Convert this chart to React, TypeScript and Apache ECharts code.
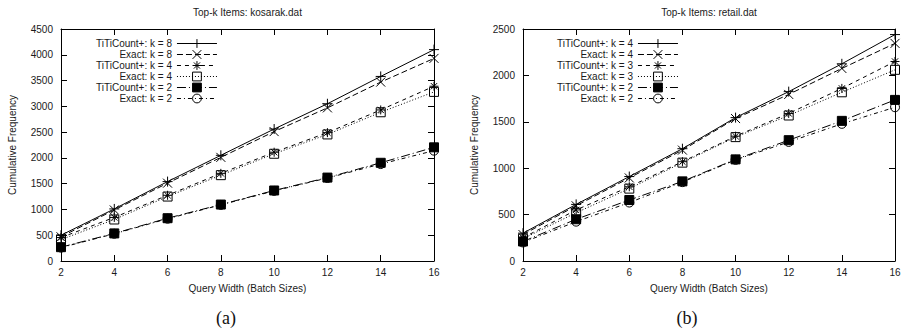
import React, { useEffect, useRef } from 'react';
import * as echarts from 'echarts';

// ---------- data ----------
const batchSizes = [2, 4, 6, 8, 10, 12, 14, 16];

// (a) kosarak.dat
const kosTiti8 = [500, 1010, 1540, 2050, 2560, 3050, 3580, 4100];
const kosExact8 = [470, 990, 1510, 2010, 2510, 2970, 3470, 3930];
const kosTiti4 = [455, 845, 1275, 1700, 2110, 2490, 2930, 3390];
const kosExact4 = [415, 805, 1250, 1665, 2080, 2455, 2885, 3280];
const kosTiti2 = [268, 535, 830, 1095, 1368, 1618, 1905, 2205];
const kosExact2 = [260, 528, 820, 1088, 1360, 1610, 1880, 2140];

// (b) retail.dat
const retTiti4 = [300, 610, 910, 1210, 1545, 1825, 2125, 2440];
const retExact4 = [285, 595, 895, 1195, 1535, 1795, 2075, 2345];
const retTiti3 = [250, 550, 800, 1070, 1345, 1590, 1860, 2150];
const retExact3 = [240, 520, 780, 1060, 1335, 1568, 1818, 2060];
const retTiti2 = [210, 450, 657, 858, 1095, 1302, 1510, 1736];
const retExact2 = [200, 424, 630, 850, 1090, 1283, 1478, 1657];

const kosNames = [
  'TiTiCount+: k = 8',
  'Exact: k = 8',
  'TiTiCount+: k = 4',
  'Exact: k = 4',
  'TiTiCount+: k = 2',
  'Exact: k = 2',
];
const retNames = [
  'TiTiCount+: k = 4',
  'Exact: k = 4',
  'TiTiCount+: k = 3',
  'Exact: k = 3',
  'TiTiCount+: k = 2',
  'Exact: k = 2',
];
const kosTitle = 'Top-k Items: kosarak.dat';
const retTitle = 'Top-k Items: retail.dat';
const xName = 'Query Width (Batch Sizes)';
const yName = 'Cumulative Frequency';

// ---------- styles ----------
const FONT = '"Liberation Sans", Arial, Helvetica, sans-serif';
const TXT = '#1a1a1a';
const PLUS = 'path://M0,5L10,5M5,0L5,10';
const CROSS = 'path://M0,0L10,10M10,0L0,10';
const STAR = 'path://M5,0L5,10M0,5L10,5M1.5,1.5L8.5,8.5M8.5,1.5L1.5,8.5';
const SQUARE_O = 'path://M0,0L10,0L10,10L0,10Z';
const CIRCLE_O = 'path://M10,5A5,5,0,1,1,0,5A5,5,0,1,1,10,5Z';

type Sty = { symbol: string; size: number; dash: any; filled: boolean };
const styles: Sty[] = [
  { symbol: PLUS, size: 10, dash: 'solid', filled: false },
  { symbol: CROSS, size: 9, dash: [6, 3], filled: false },
  { symbol: STAR, size: 9, dash: [4, 4], filled: false },
  { symbol: SQUARE_O, size: 9, dash: [1, 2], filled: false },
  { symbol: 'rect', size: 9, dash: [9, 3, 1, 3], filled: true },
  { symbol: CIRCLE_O, size: 9, dash: [4, 3, 1, 3], filled: false },
];

const PREFIX_B = '(b) ';

function mkSeries(name: string, values: number[], idx: number, s: Sty) {
  return {
    type: 'line',
    name,
    xAxisIndex: idx,
    yAxisIndex: idx,
    data: batchSizes.map((x, i) => [x, values[i]]),
    symbol: s.symbol,
    symbolSize: s.size,
    showSymbol: true,
    lineStyle: { color: '#000', width: 1, type: s.dash },
    itemStyle: {
      color: s.filled ? '#000' : 'rgba(0,0,0,0)',
      borderColor: '#000',
      borderWidth: 1,
    },
    emphasis: { disabled: true },
    silent: true,
  };
}

const plain = (v: number) => String(v);

function xAxes(gridIndex: number) {
  const common = {
    gridIndex,
    type: 'value',
    min: 2,
    max: 16,
    interval: 2,
    axisLine: { show: true, onZero: false, lineStyle: { color: '#000', width: 1 } },
    axisTick: { show: true, inside: true, length: 6, lineStyle: { color: '#000', width: 1 } },
    splitLine: { show: false },
  };
  return [
    {
      ...common,
      position: 'bottom',
      axisLabel: { color: TXT, fontSize: 10, fontFamily: FONT, margin: 6, formatter: plain },
      name: xName,
      nameLocation: 'middle',
      nameGap: 22,
      nameTextStyle: { color: TXT, fontSize: 10, fontFamily: FONT },
    },
    { ...common, position: 'top', axisLabel: { show: false } },
  ];
}

function yAxes(gridIndex: number, max: number) {
  const common = {
    gridIndex,
    type: 'value',
    min: 0,
    max,
    interval: 500,
    axisLine: { show: true, onZero: false, lineStyle: { color: '#000', width: 1 } },
    axisTick: { show: true, inside: true, length: 6, lineStyle: { color: '#000', width: 1 } },
    splitLine: { show: false },
  };
  return [
    {
      ...common,
      position: 'left',
      axisLabel: { color: TXT, fontSize: 10, fontFamily: FONT, margin: 8, formatter: plain },
      name: yName,
      nameLocation: 'middle',
      nameGap: 44,
      nameRotate: 90,
      nameTextStyle: { color: TXT, fontSize: 10, fontFamily: FONT },
    },
    { ...common, position: 'right', axisLabel: { show: false } },
  ];
}

function legend(left: number, names: string[]) {
  return {
    orient: 'vertical',
    align: 'right',
    left,
    top: 38,
    padding: 0,
    itemWidth: 40,
    itemHeight: 11,
    itemGap: 0,
    selectedMode: false,
    inactiveColor: TXT,
    data: names,
    formatter: (n: string) => (n.indexOf(PREFIX_B) === 0 ? n.slice(PREFIX_B.length) : n),
    textStyle: {
      color: TXT,
      fontSize: 10,
      lineHeight: 11,
      fontFamily: FONT,
      textBorderWidth: 0,
      textShadowBlur: 0,
    },
    lineStyle: { width: 1 },
    itemStyle: { borderWidth: 1 },
  };
}

const kosValues = [kosTiti8, kosExact8, kosTiti4, kosExact4, kosTiti2, kosExact2];
const retValues = [retTiti4, retExact4, retTiti3, retExact3, retTiti2, retExact2];
const retSeriesNames = retNames.map((n) => PREFIX_B + n);

const option: any = {
  animation: false,
  backgroundColor: '#fff',
  color: ['#000'],
  grid: [
    { left: 61, top: 29, width: 373, height: 232 },
    { left: 523, top: 29, width: 372, height: 232 },
  ],
  xAxis: [...xAxes(0), ...xAxes(1)],
  yAxis: [...yAxes(0, 4500), ...yAxes(1, 2500)],
  legend: [legend(96, kosNames), legend(557, retSeriesNames)],
  series: [
    ...kosNames.map((n, i) => mkSeries(n, kosValues[i], 0, styles[i])),
    ...retSeriesNames.map((n, i) => mkSeries(n, retValues[i], 2, styles[i])),
  ],
  graphic: [
    {
      type: 'text',
      x: 247.5,
      y: 12,
      style: { text: kosTitle, fill: TXT, font: `10px ${FONT}`, align: 'center', verticalAlign: 'middle' },
    },
    {
      type: 'text',
      x: 709,
      y: 12,
      style: { text: retTitle, fill: TXT, font: `10px ${FONT}`, align: 'center', verticalAlign: 'middle' },
    },
    {
      type: 'text',
      x: 226,
      y: 318,
      style: { text: '(a)', fill: '#111', font: '18px "Liberation Serif", "DejaVu Serif", serif', align: 'center', verticalAlign: 'middle' },
    },
    {
      type: 'text',
      x: 687,
      y: 318,
      style: { text: '(b)', fill: '#111', font: '18px "Liberation Serif", "DejaVu Serif", serif', align: 'center', verticalAlign: 'middle' },
    },
  ],
};

export default function App() {
  const ref = useRef<HTMLDivElement>(null);
  useEffect(() => {
    const chart = echarts.init(ref.current as HTMLDivElement, null, { renderer: 'svg', width: 904, height: 332 });
    chart.setOption(option);
    return () => chart.dispose();
  }, []);
  return (
    <div
      ref={ref}
      style={{ position: 'fixed', left: 0, top: 0, width: 904, height: 332, background: '#fff' }}
    />
  );
}
